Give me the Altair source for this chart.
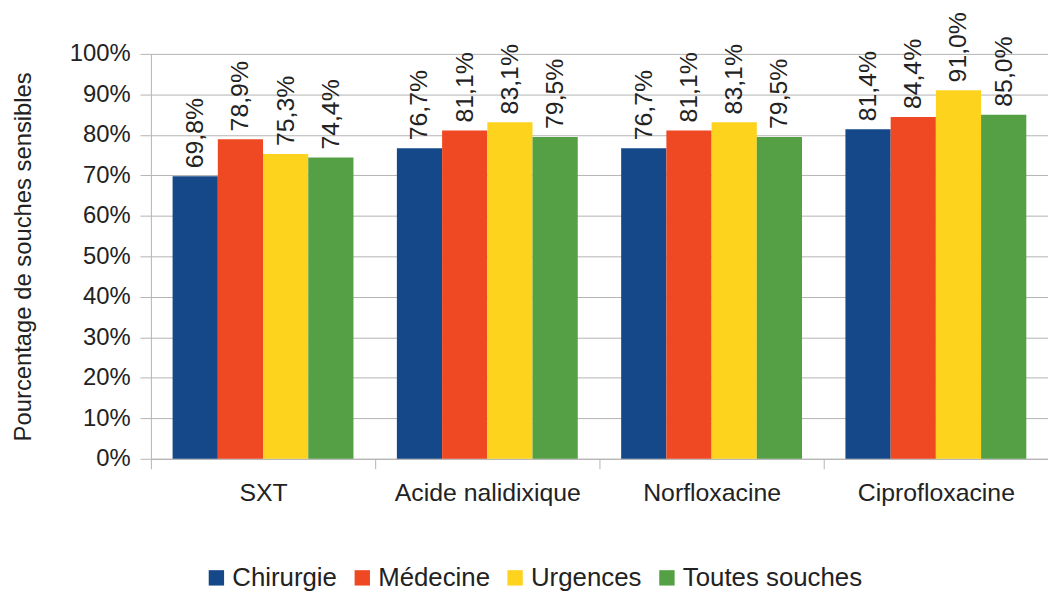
import altair as alt
import pandas as pd

categories = ["SXT", "Acide nalidixique", "Norfloxacine", "Ciprofloxacine"]
series = ["Chirurgie", "Médecine", "Urgences", "Toutes souches"]
chirurgie = [69.8, 76.7, 76.7, 81.4]
medecine = [78.9, 81.1, 81.1, 84.4]
urgences = [75.3, 83.1, 83.1, 91.0]
toutes = [74.4, 79.5, 79.5, 85.0]
colors = ["#154889", "#EF4923", "#FDD31E", "#559F45"]

rows = []
for s, vals in zip(series, [chirurgie, medecine, urgences, toutes]):
    for c, v in zip(categories, vals):
        rows.append({"cat": c, "serie": s, "val": v,
                     "label": f"{v:.1f}".replace(".", ",") + "%"})
df = pd.DataFrame(rows)

FONT = "Liberation Sans"
GRAY = "#b3b3b3"
TXT = "#222222"

x = alt.X("cat:N", sort=categories,
          scale=alt.Scale(paddingInner=0, paddingOuter=0),
          axis=alt.Axis(title=None, labelAngle=0, tickBand="extent",
                        labelFontSize=25, labelFont=FONT, labelColor=TXT,
                        labelLimit=400,
                        tickSize=10, tickColor=GRAY, domainColor=GRAY,
                        labelPadding=12, grid=False))
xo = alt.XOffset("serie:N", sort=series,
                 scale=alt.Scale(paddingInner=0, paddingOuter=0.48))
y = alt.Y("val:Q", scale=alt.Scale(domain=[0, 100], nice=False),
          axis=alt.Axis(title="Pourcentage de souches sensibles",
                        values=list(range(0, 101, 10)),
                        labelExpr="datum.value + '%'",
                        labelFontSize=24, labelFont=FONT, labelColor=TXT,
                        titleFontSize=24, titleFont=FONT, titleColor=TXT,
                        titleFontWeight="normal", titlePadding=34,
                        tickSize=11, tickColor=GRAY, domainColor=GRAY,
                        gridColor=GRAY, labelPadding=10))

bars = alt.Chart(df).mark_bar().encode(
    x=x, xOffset=xo, y=y,
    color=alt.Color("serie:N", sort=series,
                    scale=alt.Scale(domain=series, range=colors),
                    legend=alt.Legend(title=None, orient="none", direction="horizontal",
                                      legendX=53, legendY=515, columns=4,
                                      symbolType="square", symbolSize=240,
                                      symbolStrokeWidth=0, symbolOpacity=1,
                                      labelFontSize=26, labelFont=FONT, labelColor=TXT,
                                      labelLimit=400,
                                      labelOffset=3, columnPadding=12, padding=0))
)
text = alt.Chart(df).mark_text(angle=270, align="left", baseline="middle", dx=8,
                               fontSize=25, font=FONT, color=TXT).encode(
    x=x, xOffset=xo, y=y, text="label:N"
)

chart = (bars + text).properties(
    width=904, height=408,
    autosize=alt.AutoSizeParams(type="none"),
    padding={"left": 144, "top": 44, "right": 0, "bottom": 132},
).configure_view(stroke=None)

chart.save("out.html", embed_options={"renderer": "svg", "actions": False})
